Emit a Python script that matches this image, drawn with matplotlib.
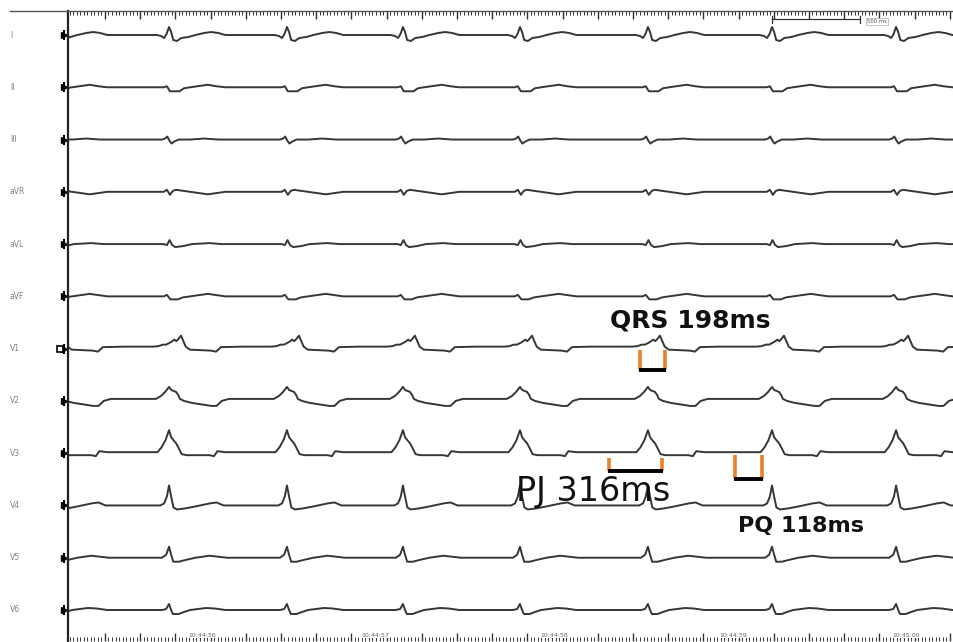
import numpy as np
import matplotlib
matplotlib.use("Agg")
import matplotlib.pyplot as plt
from matplotlib.lines import Line2D

# ---------------- data ----------------
LEADS = ["I", "II", "III", "aVR", "aVL", "aVF", "V1", "V2", "V3", "V4", "V5", "V6"]

# beat (QRS) times in ms from the left edge of the recording window
BEAT_TIMES_MS = [-97, 574, 1244, 1903, 2568, 3295, 4000, 4705]

# per-lead beat templates: offset from beat time (ms) and amplitude (mm, up positive)
T_I    = [(-250, 0), (-70, 0), (-45, -1), (-28, -3), (-14, 1), (0, 8), (12, 3), (24, -5), (45, -6),
          (70, -3), (110, -2), (150, 0), (200, 2), (240, 3), (280, 2), (320, 0), (400, 0)]
T_II   = [(-250, 0), (-30, 0), (-12, 1), (5, -4), (60, -4), (85, -1), (120, 0), (180, 1.5),
          (220, 2.5), (270, 1), (320, 0), (400, 0)]
T_III  = [(-250, 0), (-40, 0), (-22, 1), (-10, 3), (2, -1), (14, -4), (30, -2), (55, 0), (120, 0),
          (200, 1), (280, 0), (400, 0)]
T_AVR  = [(-250, 0), (-30, 0), (-12, 2), (5, -3), (22, 1), (40, 2), (80, 1), (120, 0), (220, -2.5),
          (280, -1), (320, 0), (400, 0)]
T_AVL  = [(-250, 0), (-30, 0), (-12, -1), (3, 4), (18, -1), (35, -3), (80, -2), (130, 0), (230, 1),
          (300, 0), (400, 0)]
T_AVF  = [(-250, 0), (-30, 0), (-12, 1.5), (8, -3), (50, -3), (80, -1), (120, 0), (220, 2.5),
          (280, 1), (320, 0), (400, 0)]
T_V1   = [(-250, 2), (-90, 2), (-60, 2.5), (-35, 4), (-17, 4), (0, 5.5), (15, 7), (30, 9), (42, 7.5),
          (55, 10), (68, 13), (80, 8), (95, 2), (118, -1), (180, -1.5), (239, -2), (267, -3),
          (295, 1.5), (400, 2)]
T_V2   = [(-250, 2), (-75, 2), (-45, 5), (-22, 9), (0, 14), (12, 11), (25, 10), (40, 9), (52, 6),
          (62, 2), (85, 0), (130, -2), (240, -5), (270, -5), (300, 0), (340, 2), (400, 2)]
T_V3   = [(-250, 1), (-65, 1), (-42, 6), (-20, 13), (0, 23), (12, 16), (25, 13), (40, 10), (55, 5),
          (72, -1), (100, -2), (230, -2), (255, -3), (275, 2), (320, 1), (400, 1)]
T_V4   = [(-250, 0), (-50, 0), (-28, 2), (-12, 9), (0, 20), (12, 9), (25, -2), (45, -4), (90, -3),
          (150, -1), (230, 2), (270, 3), (310, 0), (400, 0)]
T_V5   = [(-250, 0), (-40, 0), (-16, 3), (0, 11), (12, 3), (24, -4), (55, -4), (100, -2), (150, 0),
          (230, 2), (280, 1), (330, 0), (400, 0)]
T_V6   = [(-250, 0), (-40, 0), (-16, 1), (0, 6), (12, 0), (22, -4), (55, -4), (85, -2), (120, 0),
          (210, 2), (260, 1.5), (320, 0), (400, 0)]
TEMPLATES = [T_I, T_II, T_III, T_AVR, T_AVL, T_AVF, T_V1, T_V2, T_V3, T_V4, T_V5, T_V6]

TIME_LABELS = ["10:44:56", "10:44:57", "10:44:58", "10:44:59", "10:45:00"]
TIME_LABEL_MS = [760, 1745, 2765, 3780, 4760]

# measurement annotations: (label, start ms, end ms)
QRS = ("QRS 198ms", 3250, 3392)
PJ = ("PJ 316ms", 3074, 3375)
PQ = ("PQ 118ms", 3790, 3943)

SCALE_BAR_MS = (4000, 4500)

# ---------------- figure ----------------
W, H = 954, 642
fig = plt.figure(figsize=(W / 100, H / 100), dpi=100)
left_px, top_px, bottom_px = 68, 11, 641
ax = fig.add_axes([left_px / W, 1 - bottom_px / H, (W - left_px) / W, (bottom_px - top_px) / H])

XMAX = 5034
SPACING_PX = 52.27
ax.set_xlim(0, XMAX)
ymin = -(35 - top_px) / SPACING_PX
ymax = 11 + (bottom_px - 610) / SPACING_PX
ax.set_ylim(ymax, ymin)
GAIN = 1 / SPACING_PX

trace_color = "#363636"
for i, (lead, tpl) in enumerate(zip(LEADS, TEMPLATES)):
    xs, ys = [], []
    for b in BEAT_TIMES_MS:
        for dt, a in tpl:
            xs.append(b + dt)
            ys.append(i - a * GAIN)
    order = np.argsort(xs, kind="stable")
    xs = np.asarray(xs)[order]
    ys = np.asarray(ys)[order]
    ax.plot(xs, ys, color=trace_color, lw=1.4, solid_joinstyle="round")
    # lead start marker
    ax.plot([-22], [i], marker=">", ms=4.5, color="black", clip_on=False)
    ax.plot([-24], [i], marker="|", ms=7, mew=1.5, color="black", clip_on=False)
    if lead == "V1":
        ax.plot([-45], [i], marker="s", ms=5, mfc="white", mec="black", mew=1.2, clip_on=False)
    ax.text(-0.0655, i, lead, transform=ax.get_yaxis_transform(), ha="left", va="center",
            fontsize=5.5, color="#808080")

# spines / rulers
for s in ["right", "bottom"]:
    ax.spines[s].set_visible(False)
ax.spines["left"].set_linewidth(1.6)
ax.spines["left"].set_color("#222222")
ax.spines["top"].set_linewidth(1.0)
ax.spines["top"].set_color("#555555")
fig.add_artist(Line2D([10 / W, left_px / W], [1 - top_px / H] * 2, color="#555555", lw=1.0))

ax.set_xticks(np.arange(210, XMAX, 200))
ax.set_xticks(np.arange(10, XMAX, 20), minor=True)
ax.set_yticks([])
ax.tick_params(axis="x", which="both", top=True, bottom=True, direction="in",
               labelbottom=False, labeltop=False, color="#333333")
ax.tick_params(axis="x", which="major", length=5.5, width=1.0)
ax.tick_params(axis="x", which="minor", length=3.0, width=0.7)

for lbl, t in zip(TIME_LABELS, TIME_LABEL_MS):
    ax.text(t, 0.009, lbl, transform=ax.get_xaxis_transform(), ha="center", va="center",
            fontsize=4.5, color="#666666",
            bbox=dict(facecolor="white", edgecolor="none", pad=0.3))

# scale bar
sy = -0.306
ax.plot(SCALE_BAR_MS, [sy, sy], color="#333333", lw=0.9, clip_on=False)
for xb in SCALE_BAR_MS:
    ax.plot([xb, xb], [sy - 0.06, sy + 0.07], color="#333333", lw=0.9, clip_on=False)
ax.text(SCALE_BAR_MS[1] + 40, sy + 0.05, "500 ms", fontsize=3.8, color="#555555", ha="left",
        va="center", bbox=dict(facecolor="white", edgecolor="#999999", lw=0.4, pad=0.6))

# ---------------- annotations ----------------
orange = "#E8822A"
def py(p):
    return (p - 35) / SPACING_PX

def bracket(x0, x1, y_top_px, y_bot_px):
    for xv in (x0, x1):
        ax.plot([xv, xv], [py(y_top_px), py(y_bot_px)], color=orange, lw=2.6,
                solid_capstyle="butt", zorder=5)
    ax.plot([x0 - 8, x1 + 8], [py(y_bot_px), py(y_bot_px)], color="black", lw=2.8,
            solid_capstyle="butt", zorder=6)

bracket(QRS[1], QRS[2], 350, 370)
bracket(PJ[1], PJ[2], 458, 471)
bracket(PQ[1], PQ[2], 455, 479)

def pxms(p):
    return (p - left_px) * XMAX / (W - left_px)

ax.text(pxms(610), py(327), QRS[0], fontsize=18, fontweight="bold", color="#111111",
        ha="left", va="baseline", zorder=7)
ax.text(pxms(516), py(501), PJ[0], fontsize=24, color="#111111",
        ha="left", va="baseline", zorder=7)
ax.text(pxms(738), py(532), PQ[0], fontsize=16, fontweight="bold", color="#111111",
        ha="left", va="baseline", zorder=7)

fig.savefig("out.png", dpi=100, facecolor="white")
